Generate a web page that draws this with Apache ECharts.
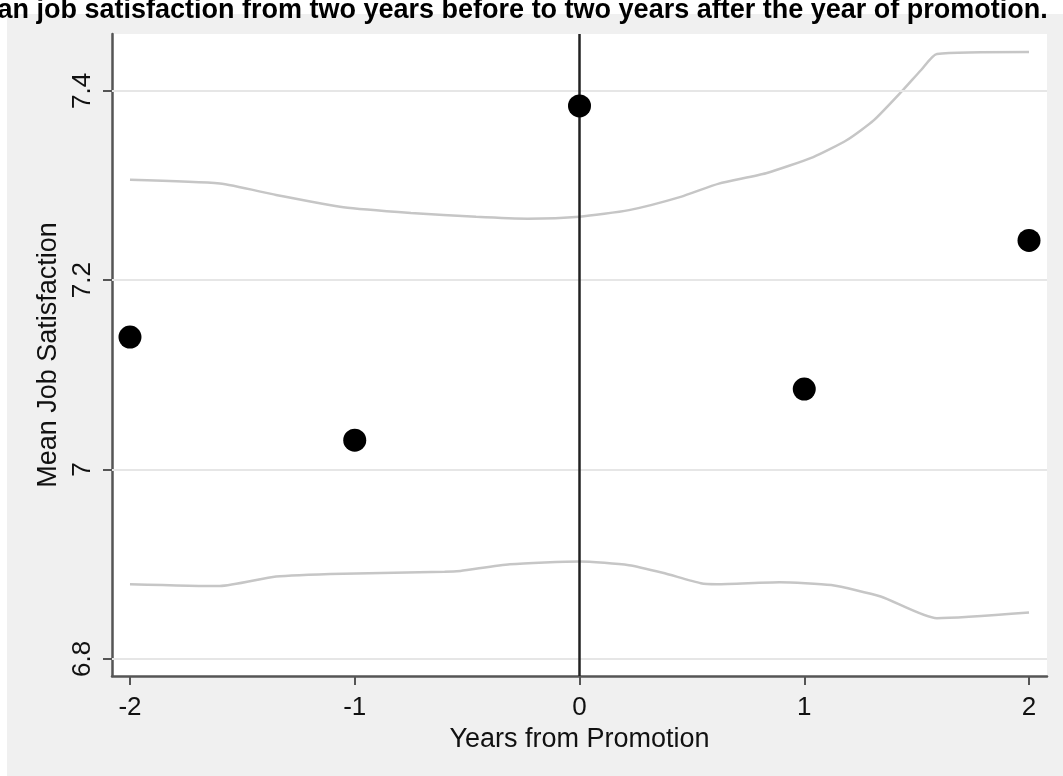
<!DOCTYPE html>
<html>
<head>
<meta charset="utf-8">
<script src="https://cdn.jsdelivr.net/npm/echarts@6/dist/echarts.min.js"></script>
<style>
  html, body { margin: 0; padding: 0; background: #fff; }
  #chart { width: 1063px; height: 776px; }
</style>
</head>
<body>
<div id="chart"></div>
<script>
// tick labels
const xTicks = [-2, -1, 0, 1, 2];
const yTicks = [6.8, 7.0, 7.2, 7.4];

// mean job satisfaction by year relative to promotion
const years = [-2, -1, 0, 1, 2];
const meanSat = [7.140, 7.031, 7.384, 7.085, 7.242];

// upper / lower band
const upperX = [-2, -1.6, -1.35, -1.05, -0.75, -0.46, -0.23, 0, 0.22, 0.45, 0.62, 0.83, 1.04, 1.19, 1.31, 1.44, 1.52, 1.59, 2.0];
const upperY = [7.306, 7.302, 7.290, 7.277, 7.271, 7.267, 7.265, 7.267, 7.274, 7.288, 7.302, 7.313, 7.330, 7.348, 7.369, 7.401, 7.422, 7.439, 7.441];
const lowerX = [-2, -1.6, -1.35, -1.05, -0.6, -0.53, -0.31, 0, 0.22, 0.37, 0.54, 0.61, 0.89, 1.12, 1.34, 1.59, 2.0];
const lowerY = [6.879, 6.877, 6.887, 6.890, 6.892, 6.893, 6.900, 6.903, 6.899, 6.891, 6.880, 6.879, 6.881, 6.878, 6.866, 6.843, 6.849];

const font = 'Liberation Sans, Arial, sans-serif';
const pairs = (xs, ys) => xs.map((x, i) => [x, ys[i]]);

const chart = echarts.init(document.getElementById('chart'));
chart.setOption({
  animation: false,
  backgroundColor: '#fff',
  graphic: [
    {
      type: 'rect', z: -10, silent: true,
      shape: { x: 7, y: 14, width: 1056, height: 762 },
      style: { fill: '#f0f0f0' }
    },
    {
      type: 'text', left: -40, top: -3, z: 10,
      style: {
        text: 'Mean job satisfaction from two years before to two years after the year of promotion.',
        font: 'bold 27px ' + font, fill: '#000'
      }
    }
  ],
  grid: {
    left: 112, right: 16, top: 34, bottom: 100,
    show: true, backgroundColor: '#fff', borderWidth: 0
  },
  xAxis: {
    type: 'value', min: -2.08, max: 2.08,
    name: 'Years from Promotion', nameLocation: 'middle', nameGap: 33,
    nameTextStyle: { fontFamily: font, fontSize: 27, color: '#111' },
    axisLine: { onZero: false, lineStyle: { color: '#555', width: 2.5 } },
    axisTick: { show: true, length: 9, customValues: xTicks, lineStyle: { color: '#555', width: 2 } },
    axisLabel: { customValues: xTicks, margin: 19, fontFamily: font, fontSize: 26, color: '#111' },
    splitLine: { show: false }
  },
  yAxis: {
    type: 'value', min: 6.782, max: 7.46,
    name: 'Mean Job Satisfaction', nameLocation: 'middle', nameGap: 41,
    nameTextStyle: { fontFamily: font, fontSize: 27, color: '#111' },
    axisLine: { show: true, onZero: false, lineStyle: { color: '#555', width: 2.5 } },
    axisTick: { show: true, length: 9, customValues: yTicks, lineStyle: { color: '#555', width: 2 } },
    axisLabel: {
      customValues: yTicks, rotate: 90, margin: 16,
      fontFamily: font, fontSize: 26, color: '#111',
      formatter: v => String(+v.toFixed(1))
    },
    splitLine: { show: false }
  },
  series: [
    {
      type: 'line', data: [], z: 1, silent: true,
      markLine: {
        silent: true, symbol: 'none', label: { show: false },
        lineStyle: { color: '#e6e6e6', width: 2, type: 'solid' },
        data: yTicks.map(v => ({ yAxis: v }))
      }
    },
    {
      type: 'line', data: pairs(upperX, upperY), smooth: 0.2, symbol: 'none', z: 2,
      lineStyle: { color: '#c6c6c6', width: 2.5 }
    },
    {
      type: 'line', data: pairs(lowerX, lowerY), smooth: 0.2, symbol: 'none', z: 2,
      lineStyle: { color: '#c6c6c6', width: 2.5 }
    },
    {
      type: 'scatter', data: pairs(years, meanSat), symbolSize: 23, z: 5,
      itemStyle: { color: '#000', opacity: 1 },
      markLine: {
        silent: true, symbol: 'none', label: { show: false },
        lineStyle: { color: '#222', width: 2.5, type: 'solid' },
        data: [{ xAxis: 0 }]
      }
    }
  ]
});
</script>
</body>
</html>
